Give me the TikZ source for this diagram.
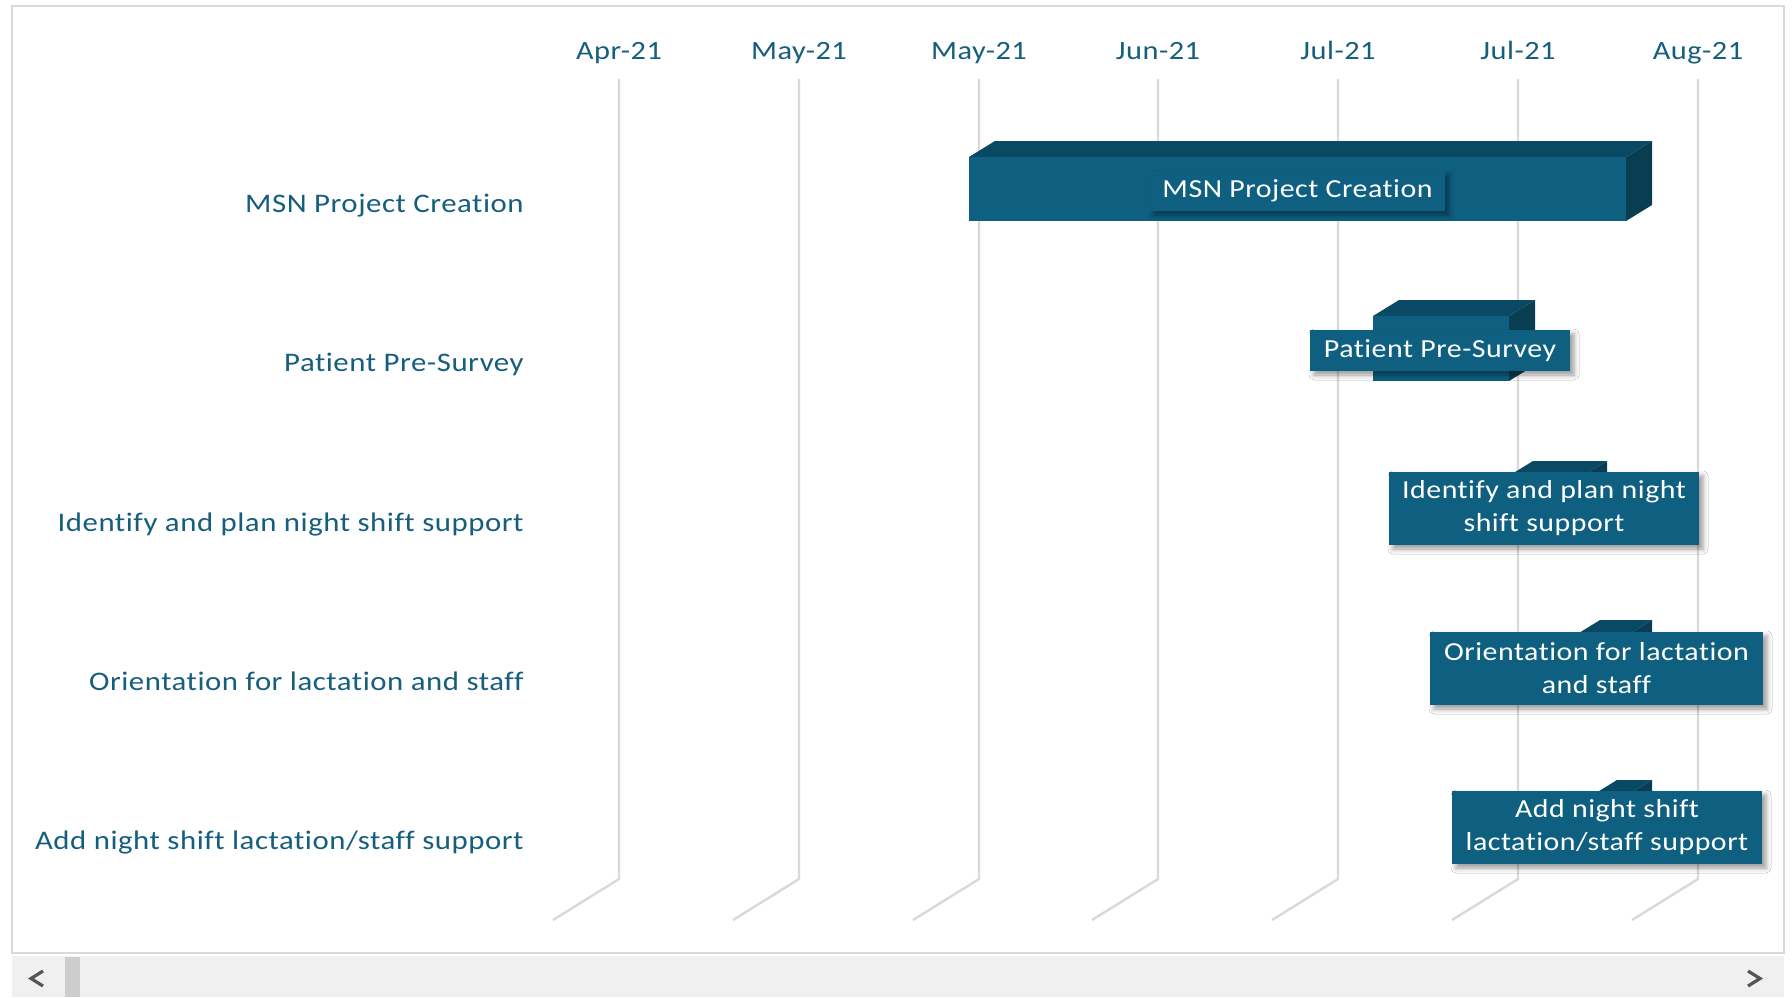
\documentclass[tikz,border=0pt]{standalone}
\usepackage{fontspec}
\setmainfont{Carlito}
\usepackage{xcolor}
\usepackage{tikz}
\usetikzlibrary{shadows.blur}

\newfontfamily\chartfont[FakeStretch=1.15,LetterSpace=2,Ligatures=CommonOff]{Carlito}

\definecolor{barfront}{RGB}{14,95,128}
\definecolor{bartop}{RGB}{10,73,99}
\definecolor{barside}{RGB}{8,61,82}
\definecolor{axistext}{RGB}{22,94,126}
\definecolor{gridgray}{RGB}{217,217,217}
\definecolor{scrollbg}{RGB}{240,240,240}
\definecolor{scrollthumb}{RGB}{205,205,205}
\definecolor{arrowgray}{RGB}{85,85,85}

% front face from (#1,#2) to (#3,#4), depth 26 right and 16 up
\newcommand{\ganttbar}[4]{%
	\fill[bartop] (#1,#2) -- (#1+26,#2-16) -- (#3+26,#2-16) -- (#3,#2) -- cycle;
	\fill[barside] (#3,#2) -- (#3+26,#2-16) -- (#3+26,#4-16) -- (#3,#4) -- cycle;
	\fill[barfront] (#1,#2) rectangle (#3,#4);
}

\begin{document}
\begin{tikzpicture}[x=0.5pt,y=-0.5pt,
	month/.style={text=axistext,font=\chartfont\fontsize{13.2}{15}\selectfont,anchor=base,inner sep=0pt},
	task/.style={text=axistext,font=\chartfont\fontsize{13.4}{15}\selectfont,anchor=base east,inner sep=0pt},
	tag/.style={fill=barfront,text=white,font=\chartfont\fontsize{13}{16.5}\selectfont,align=center,inner sep=0pt,
		blur shadow={shadow xshift=2pt,shadow yshift=-2pt,shadow blur radius=2.5pt,shadow opacity=40}},
	gridline/.style={gridgray,line width=1.2pt}]
	\useasboundingbox (0,0) rectangle (1792,997);
	\fill[white] (0,0) rectangle (1792,997);
	
	% frame and scroll bar
	\draw[gridgray,line width=1pt] (12,6) rectangle (1784,953);
	\fill[scrollbg] (12,956) rectangle (1784,997);
	\fill[scrollthumb] (65,957) rectangle (80,997);
	\draw[arrowgray,line width=1.6pt] (43,971) -- (31,978.5) -- (43,986);
	\draw[arrowgray,line width=1.6pt] (1748,971) -- (1760,978.5) -- (1748,986);
	
	% months
	\node[month] (m1) at (619,59) {Apr-21};
	\node[month] (m2) at (799,59) {May-21};
	\node[month] (m3) at (979,59) {May-21};
	\node[month] (m4) at (1158,59) {Jun-21};
	\node[month] (m5) at (1338,59) {Jul-21};
	\node[month] (m6) at (1518,59) {Jul-21};
	\node[month] (m7) at (1698,59) {Aug-21};
	
	\draw[gridline] (619,79) -- (619,879) -- (553,920);
	\draw[gridline] (799,79) -- (799,879) -- (733,920);
	\draw[gridline] (979,79) -- (979,879) -- (913,920);
	\draw[gridline] (1158,79) -- (1158,879) -- (1092,920);
	\draw[gridline] (1338,79) -- (1338,879) -- (1272,920);
	\draw[gridline] (1518,79) -- (1518,879) -- (1452,920);
	\draw[gridline] (1698,79) -- (1698,879) -- (1632,920);
	
	% tasks
	\node[task] (t1) at (524,212) {MSN Project Creation};
	\node[task] (t2) at (524,371) {Patient Pre-Survey};
	\node[task] (t3) at (524,531) {Identify and plan night shift support};
	\node[task] (t4) at (524,690) {Orientation for lactation and staff};
	\node[task] (t5) at (524,849) {Add night shift lactation/staff support};
	
	\ganttbar{969}{157}{1626}{221}
	\ganttbar{1373}{316}{1509}{381}
	\ganttbar{1507}{477}{1581}{542}
	\ganttbar{1574}{636}{1626}{701}
	\ganttbar{1591}{796}{1626}{861}
	
	\node[tag,minimum width=147.5pt,minimum height=20pt] (b1) at (1297.5,191) {MSN Project Creation};
	\node[tag,minimum width=130pt,minimum height=20.5pt] (b2) at (1440,350.5) {Patient Pre-Survey};
	\node[tag,minimum width=155pt,minimum height=36.5pt] (b3) at (1544,508.5) {Identify and plan night\\shift support};
	\node[tag,minimum width=166.5pt,minimum height=36.5pt] (b4) at (1596.5,668.5) {Orientation for lactation\\and staff};
	\node[tag,minimum width=155pt,minimum height=36.5pt] (b5) at (1607,827.5) {Add night shift\\lactation/staff support};
\end{tikzpicture}
\end{document}
